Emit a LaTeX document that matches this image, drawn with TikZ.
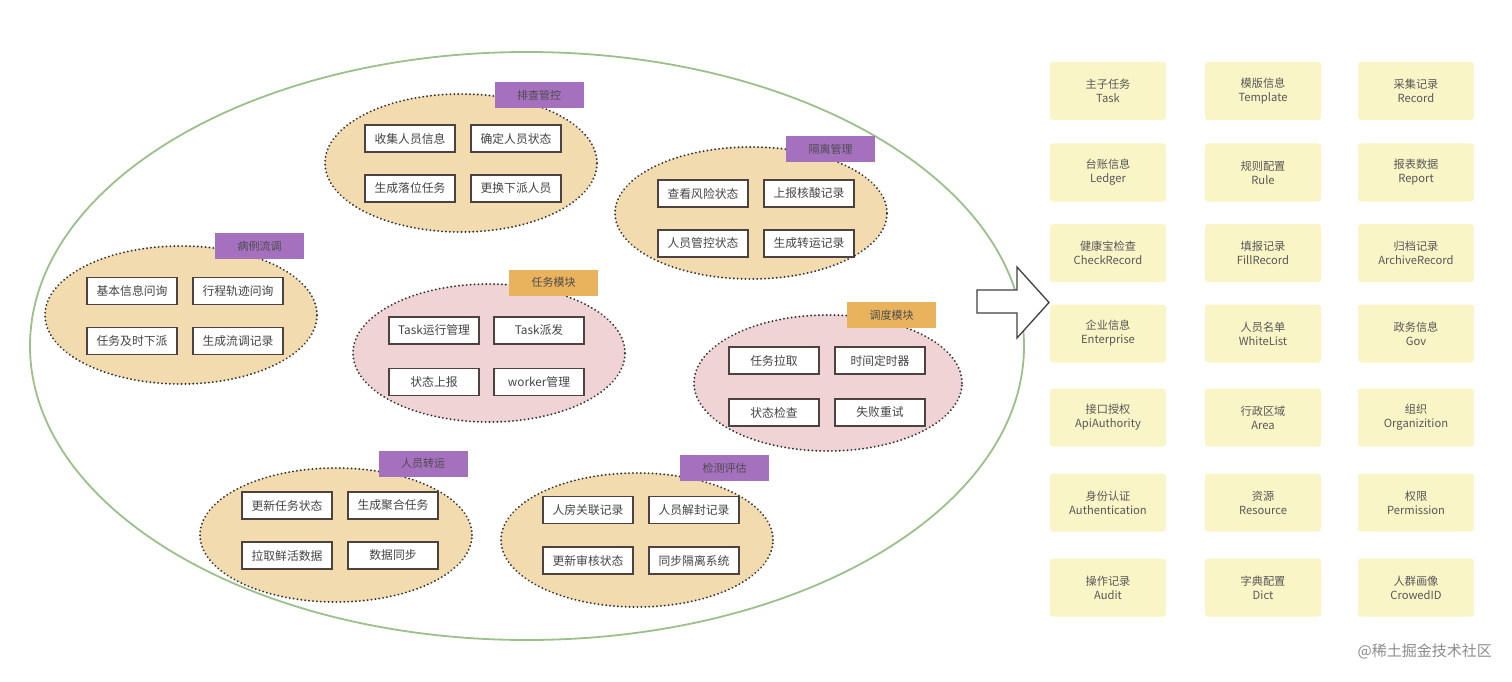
\documentclass[tikz,border=0pt]{standalone}
\usepackage{fontspec}
\setmainfont{Noto Sans CJK SC}
\usetikzlibrary{shapes.geometric}
\definecolor{outerg}{HTML}{9CC08A}
\definecolor{tanfill}{HTML}{F3DBB0}
\definecolor{pinkfill}{HTML}{F0D3D5}
\definecolor{tagpurple}{HTML}{A571BE}
\definecolor{tagorange}{HTML}{E9B25C}
\definecolor{boxline}{HTML}{4E4240}
\definecolor{txt}{HTML}{444444}
\definecolor{entfill}{HTML}{FAF5C6}
\definecolor{enttxt}{HTML}{585858}
\begin{document}
\begin{tikzpicture}[x=1pt,y=-1pt,
  cluster/.style={ellipse,draw=black!80,line width=2.1pt,line cap=round,dash pattern=on 0.01pt off 3.9pt,minimum width=272,minimum height=138,inner sep=0pt},
  tanc/.style={cluster,fill=tanfill},
  pinkc/.style={cluster,fill=pinkfill},
  box/.style={draw=boxline,line width=1.3pt,fill=white,minimum width=90,minimum height=27,inner sep=0pt,font=\fontsize{11.8}{14}\selectfont,text=txt},
  tagp/.style={fill=tagpurple,minimum width=89,minimum height=26,inner sep=0pt,font=\fontsize{11}{13}\selectfont,text=black!70},
  tago/.style={fill=tagorange,minimum width=89,minimum height=26,inner sep=0pt,font=\fontsize{11}{13}\selectfont,text=black!70},
  ent/.style={fill=entfill,rounded corners=3pt,minimum width=116,minimum height=58,inner sep=0pt,align=center,font=\fontsize{11.2}{14}\selectfont,text=enttxt}
]
\useasboundingbox (0,0) rectangle (1512,682);
\fill[white] (0,0) rectangle (1512,682);
% outer ellipse
\node[ellipse,draw=outerg,line width=1.8pt,minimum width=994,minimum height=588,inner sep=0pt] (outer) at (527,346) {};

% cluster 1 排查管控
\node[tanc] (k1) at (461,163) {};
\node[tagp] (k1t) at (539,95) {排查管控};
\node[box] (k1a) at (410,138.5) {收集人员信息};
\node[box] (k1b) at (516,138.5) {确定人员状态};
\node[box] (k1c) at (410,188.5) {生成落位任务};
\node[box] (k1d) at (516,188.5) {更换下派人员};

% cluster 2 隔离管理
\node[tanc,minimum height=132] (k2) at (751,213) {};
\node[tagp] (k2t) at (830.5,149) {隔离管理};
\node[box] (k2a) at (703,193.5) {查看风险状态};
\node[box] (k2b) at (809,193.5) {上报核酸记录};
\node[box] (k2c) at (703,243.5) {人员管控状态};
\node[box] (k2d) at (809,243.5) {生成转运记录};

% cluster 3 病例流调
\node[tanc] (k3) at (181,315) {};
\node[tagp] (k3t) at (259.5,246) {病例流调};
\node[box] (k3a) at (132,291) {基本信息问询};
\node[box] (k3b) at (238,291) {行程轨迹问询};
\node[box] (k3c) at (132,341) {任务及时下派};
\node[box] (k3d) at (238,341) {生成流调记录};

% cluster 4 任务模块
\node[pinkc] (k4) at (489,353) {};
\node[tago] (k4t) at (553.5,282.5) {任务模块};
\node[box] (k4a) at (434,330.5) {Task运行管理};
\node[box] (k4b) at (539,330.5) {Task派发};
\node[box] (k4c) at (434,382) {状态上报};
\node[box] (k4d) at (539,382) {worker管理};

% cluster 5 调度模块
\node[pinkc,minimum width=268,minimum height=136] (k5) at (828,383) {};
\node[tago] (k5t) at (891.5,315) {调度模块};
\node[box] (k5a) at (774,360.5) {任务拉取};
\node[box] (k5b) at (880,360.5) {时间定时器};
\node[box] (k5c) at (774,412.5) {状态检查};
\node[box] (k5d) at (880,412.5) {失败重试};

% cluster 6 人员转运
\node[tanc,minimum height=134] (k6) at (336,535) {};
\node[tagp] (k6t) at (423,463.5) {人员转运};
\node[box] (k6a) at (287,505.5) {更新任务状态};
\node[box] (k6b) at (393,505.5) {生成聚合任务};
\node[box] (k6c) at (287,555.5) {拉取鲜活数据};
\node[box] (k6d) at (393,555.5) {数据同步};

% cluster 7 检测评估
\node[tanc,minimum height=134] (k7) at (637,540) {};
\node[tagp] (k7t) at (724.5,468) {检测评估};
\node[box] (k7a) at (588,510) {人房关联记录};
\node[box] (k7b) at (694,510) {人员解封记录};
\node[box] (k7c) at (588,560.5) {更新审核状态};
\node[box] (k7d) at (694,560.5) {同步隔离系统};

% big arrow
\draw[draw=black!75,line width=1.3pt,fill=white,line join=miter]
  (977,290) -- (1017,290) -- (1017,267) -- (1049,302.5) -- (1017,338) -- (1017,313) -- (977,313) -- cycle;

% entity grid
\node[ent] (e11) at (1108,91) {主子任务\\Task};
\node[ent] (e12) at (1263,91) {模版信息\\Template};
\node[ent] (e13) at (1416,91) {采集记录\\Record};
\node[ent] (e21) at (1108,172.5) {台账信息\\Ledger};
\node[ent] (e22) at (1263,172.5) {规则配置\\Rule};
\node[ent] (e23) at (1416,172.5) {报表数据\\Report};
\node[ent] (e31) at (1108,253) {健康宝检查\\CheckRecord};
\node[ent] (e32) at (1263,253) {填报记录\\FillRecord};
\node[ent] (e33) at (1416,253) {归档记录\\ArchiveRecord};
\node[ent] (e41) at (1108,333.5) {企业信息\\Enterprise};
\node[ent] (e42) at (1263,333.5) {人员名单\\WhiteList};
\node[ent] (e43) at (1416,333.5) {政务信息\\Gov};
\node[ent] (e51) at (1108,417.5) {接口授权\\ApiAuthority};
\node[ent] (e52) at (1263,417.5) {行政区域\\Area};
\node[ent] (e53) at (1416,417.5) {组织\\Organizition};
\node[ent] (e61) at (1108,502.5) {身份认证\\Authentication};
\node[ent] (e62) at (1263,502.5) {资源\\Resource};
\node[ent] (e63) at (1416,502.5) {权限\\Permission};
\node[ent] (e71) at (1108,587.5) {操作记录\\Audit};
\node[ent] (e72) at (1263,587.5) {字典配置\\Dict};
\node[ent] (e73) at (1416,587.5) {人群画像\\CrowedID};

% watermark
\node[anchor=east,font=\fontsize{15}{17}\selectfont,text=black!45,inner sep=0pt] (wm) at (1492,651) {@稀土掘金技术社区};
\end{tikzpicture}
\end{document}
